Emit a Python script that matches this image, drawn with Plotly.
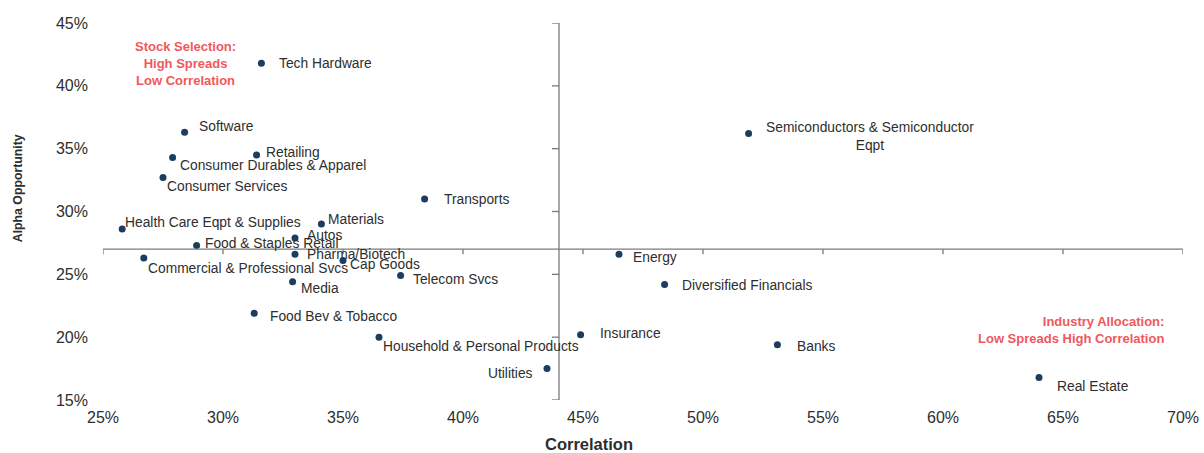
import plotly.graph_objects as go

# Industry groups: correlation vs. alpha opportunity (both in %)
industries = [
    "Tech Hardware", "Software", "Retailing", "Consumer Durables & Apparel",
    "Consumer Services", "Health Care Eqpt & Supplies", "Materials", "Autos",
    "Food & Staples Retail", "Pharma/Biotech", "Commercial & Professional Svcs",
    "Cap Goods", "Media", "Food Bev & Tobacco", "Household & Personal Products",
    "Telecom Svcs", "Transports", "Semiconductors & Semiconductor<br>Eqpt",
    "Energy", "Diversified Financials", "Insurance", "Utilities", "Banks",
    "Real Estate",
]
correlation = [
    31.6, 28.4, 31.4, 27.9,
    27.5, 25.8, 34.1, 33.0,
    28.9, 33.0, 26.7,
    35.0, 32.9, 31.3, 36.5,
    37.4, 38.4, 51.9,
    46.5, 48.4, 44.9, 43.5, 53.1,
    64.0,
]
alpha_opportunity = [
    41.8, 36.3, 34.5, 34.3,
    32.7, 28.6, 29.0, 27.9,
    27.3, 26.6, 26.3,
    26.1, 24.4, 21.9, 20.0,
    24.9, 31.0, 36.2,
    26.6, 24.2, 20.2, 17.5, 19.4,
    16.8,
]

x_ticks = [25, 30, 35, 40, 45, 50, 55, 60, 65, 70]
y_ticks = [15, 20, 25, 30, 35, 40, 45]
x_cross, y_cross = 44, 27

# label placement: (x offset px, y offset px downward, anchor)
label_layout = {
    "Tech Hardware": (17, 0, "left"),
    "Software": (13, -6, "left"),
    "Retailing": (8, -2, "left"),
    "Consumer Durables & Apparel": (6, 8, "left"),
    "Consumer Services": (3, 9, "left"),
    "Health Care Eqpt & Supplies": (2, -7, "left"),
    "Materials": (6, -5, "left"),
    "Autos": (11, -2, "left"),
    "Food & Staples Retail": (7, -2, "left"),
    "Pharma/Biotech": (11, 0, "left"),
    "Commercial & Professional Svcs": (3, 10, "left"),
    "Cap Goods": (6, 4, "left"),
    "Media": (7, 7, "left"),
    "Food Bev & Tobacco": (15, 3, "left"),
    "Household & Personal Products": (3, 9, "left"),
    "Telecom Svcs": (11, 4, "left"),
    "Transports": (18, 1, "left"),
    "Semiconductors & Semiconductor<br>Eqpt": (16, 3, "left"),
    "Energy": (13, 3, "left"),
    "Diversified Financials": (16, 1, "left"),
    "Insurance": (18, -1, "left"),
    "Utilities": (-13, 5, "right"),
    "Banks": (19, 2, "left"),
    "Real Estate": (17, 9, "left"),
}

FONT = "Liberation Sans, Arial, sans-serif"
TEXT = "#2e2e2e"
AXIS = "#7a7a7a"
RED = "#f0585c"
DOT = "#1d3d5e"

fig = go.Figure()
fig.add_trace(go.Scatter(
    x=correlation, y=alpha_opportunity, mode="markers",
    marker=dict(size=7, color=DOT, line=dict(width=0)),
    hovertext=industries, hoverinfo="text", showlegend=False,
))

annotations = []
for name, cx, ay in zip(industries, correlation, alpha_opportunity):
    dx, dy, anchor = label_layout[name]
    annotations.append(dict(
        x=cx, y=ay, xref="x", yref="y", text=name, showarrow=False,
        xanchor=anchor, yanchor="middle", xshift=dx, yshift=-dy,
        align="center", borderpad=0,
        font=dict(family=FONT, size=13.8, color=TEXT),
    ))

# quadrant captions
annotations.append(dict(
    x=28.42, y=41.8, xref="x", yref="y",
    text="Stock Selection:<br>High Spreads<br>Low Correlation",
    showarrow=False, xanchor="center", yanchor="middle", align="center",
    font=dict(family=FONT, size=13, color=RED, weight="bold"),
))
annotations.append(dict(
    x=69.3, y=20.6, xref="x", yref="y",
    text="Industry Allocation:<br>Low Spreads High Correlation",
    showarrow=False, xanchor="right", yanchor="middle", align="right",
    font=dict(family=FONT, size=13, color=RED, weight="bold"),
))

# axis titles
annotations.append(dict(
    x=45.25, y=0, xref="x", yref="paper", text="<b>Correlation</b>",
    showarrow=False, xanchor="center", yanchor="middle", yshift=-44,
    font=dict(family=FONT, size=16.5, color=TEXT),
))
annotations.append(dict(
    x=0, y=31.85, xref="paper", yref="y", text="<b>Alpha Opportunity</b>",
    showarrow=False, xanchor="center", yanchor="middle", xshift=-85,
    textangle=-90, font=dict(family=FONT, size=12.3, color=TEXT),
))

# crossing axis lines with tick marks
shapes = [
    dict(type="line", xref="x", yref="y", x0=x_cross, x1=x_cross,
         y0=min(y_ticks), y1=max(y_ticks), line=dict(color=AXIS, width=1.3)),
    dict(type="line", xref="x", yref="y", x0=min(x_ticks), x1=max(x_ticks),
         y0=y_cross, y1=y_cross, line=dict(color=AXIS, width=1.3)),
]
for yv in y_ticks:
    shapes.append(dict(type="line", xref="x", yref="y", xsizemode="pixel",
                       xanchor=x_cross, x0=-7, x1=0, y0=yv, y1=yv,
                       line=dict(color=AXIS, width=1.3)))
for xv in x_ticks:
    shapes.append(dict(type="line", xref="x", yref="y", ysizemode="pixel",
                       yanchor=y_cross, y0=-5, y1=0, x0=xv, x1=xv,
                       line=dict(color=AXIS, width=1.3)))

fig.update_layout(
    width=1204, height=453, autosize=False,
    margin=dict(l=103, r=21, t=23, b=53, autoexpand=False),
    paper_bgcolor="white", plot_bgcolor="white",
    annotations=annotations, shapes=shapes,
    xaxis=dict(range=[25, 70], tickvals=x_ticks,
               ticktext=[f"{v}%" for v in x_ticks],
               showgrid=False, zeroline=False, showline=False, ticks="",
               ticklabelstandoff=6, automargin=False,
               tickfont=dict(family=FONT, size=16, color=TEXT)),
    yaxis=dict(range=[15, 45], tickvals=y_ticks,
               ticktext=[f"{v}%" for v in y_ticks],
               showgrid=False, zeroline=False, showline=False, ticks="",
               ticklabelstandoff=14, automargin=False,
               tickfont=dict(family=FONT, size=16, color=TEXT)),
)

fig.write_html("out.html")
